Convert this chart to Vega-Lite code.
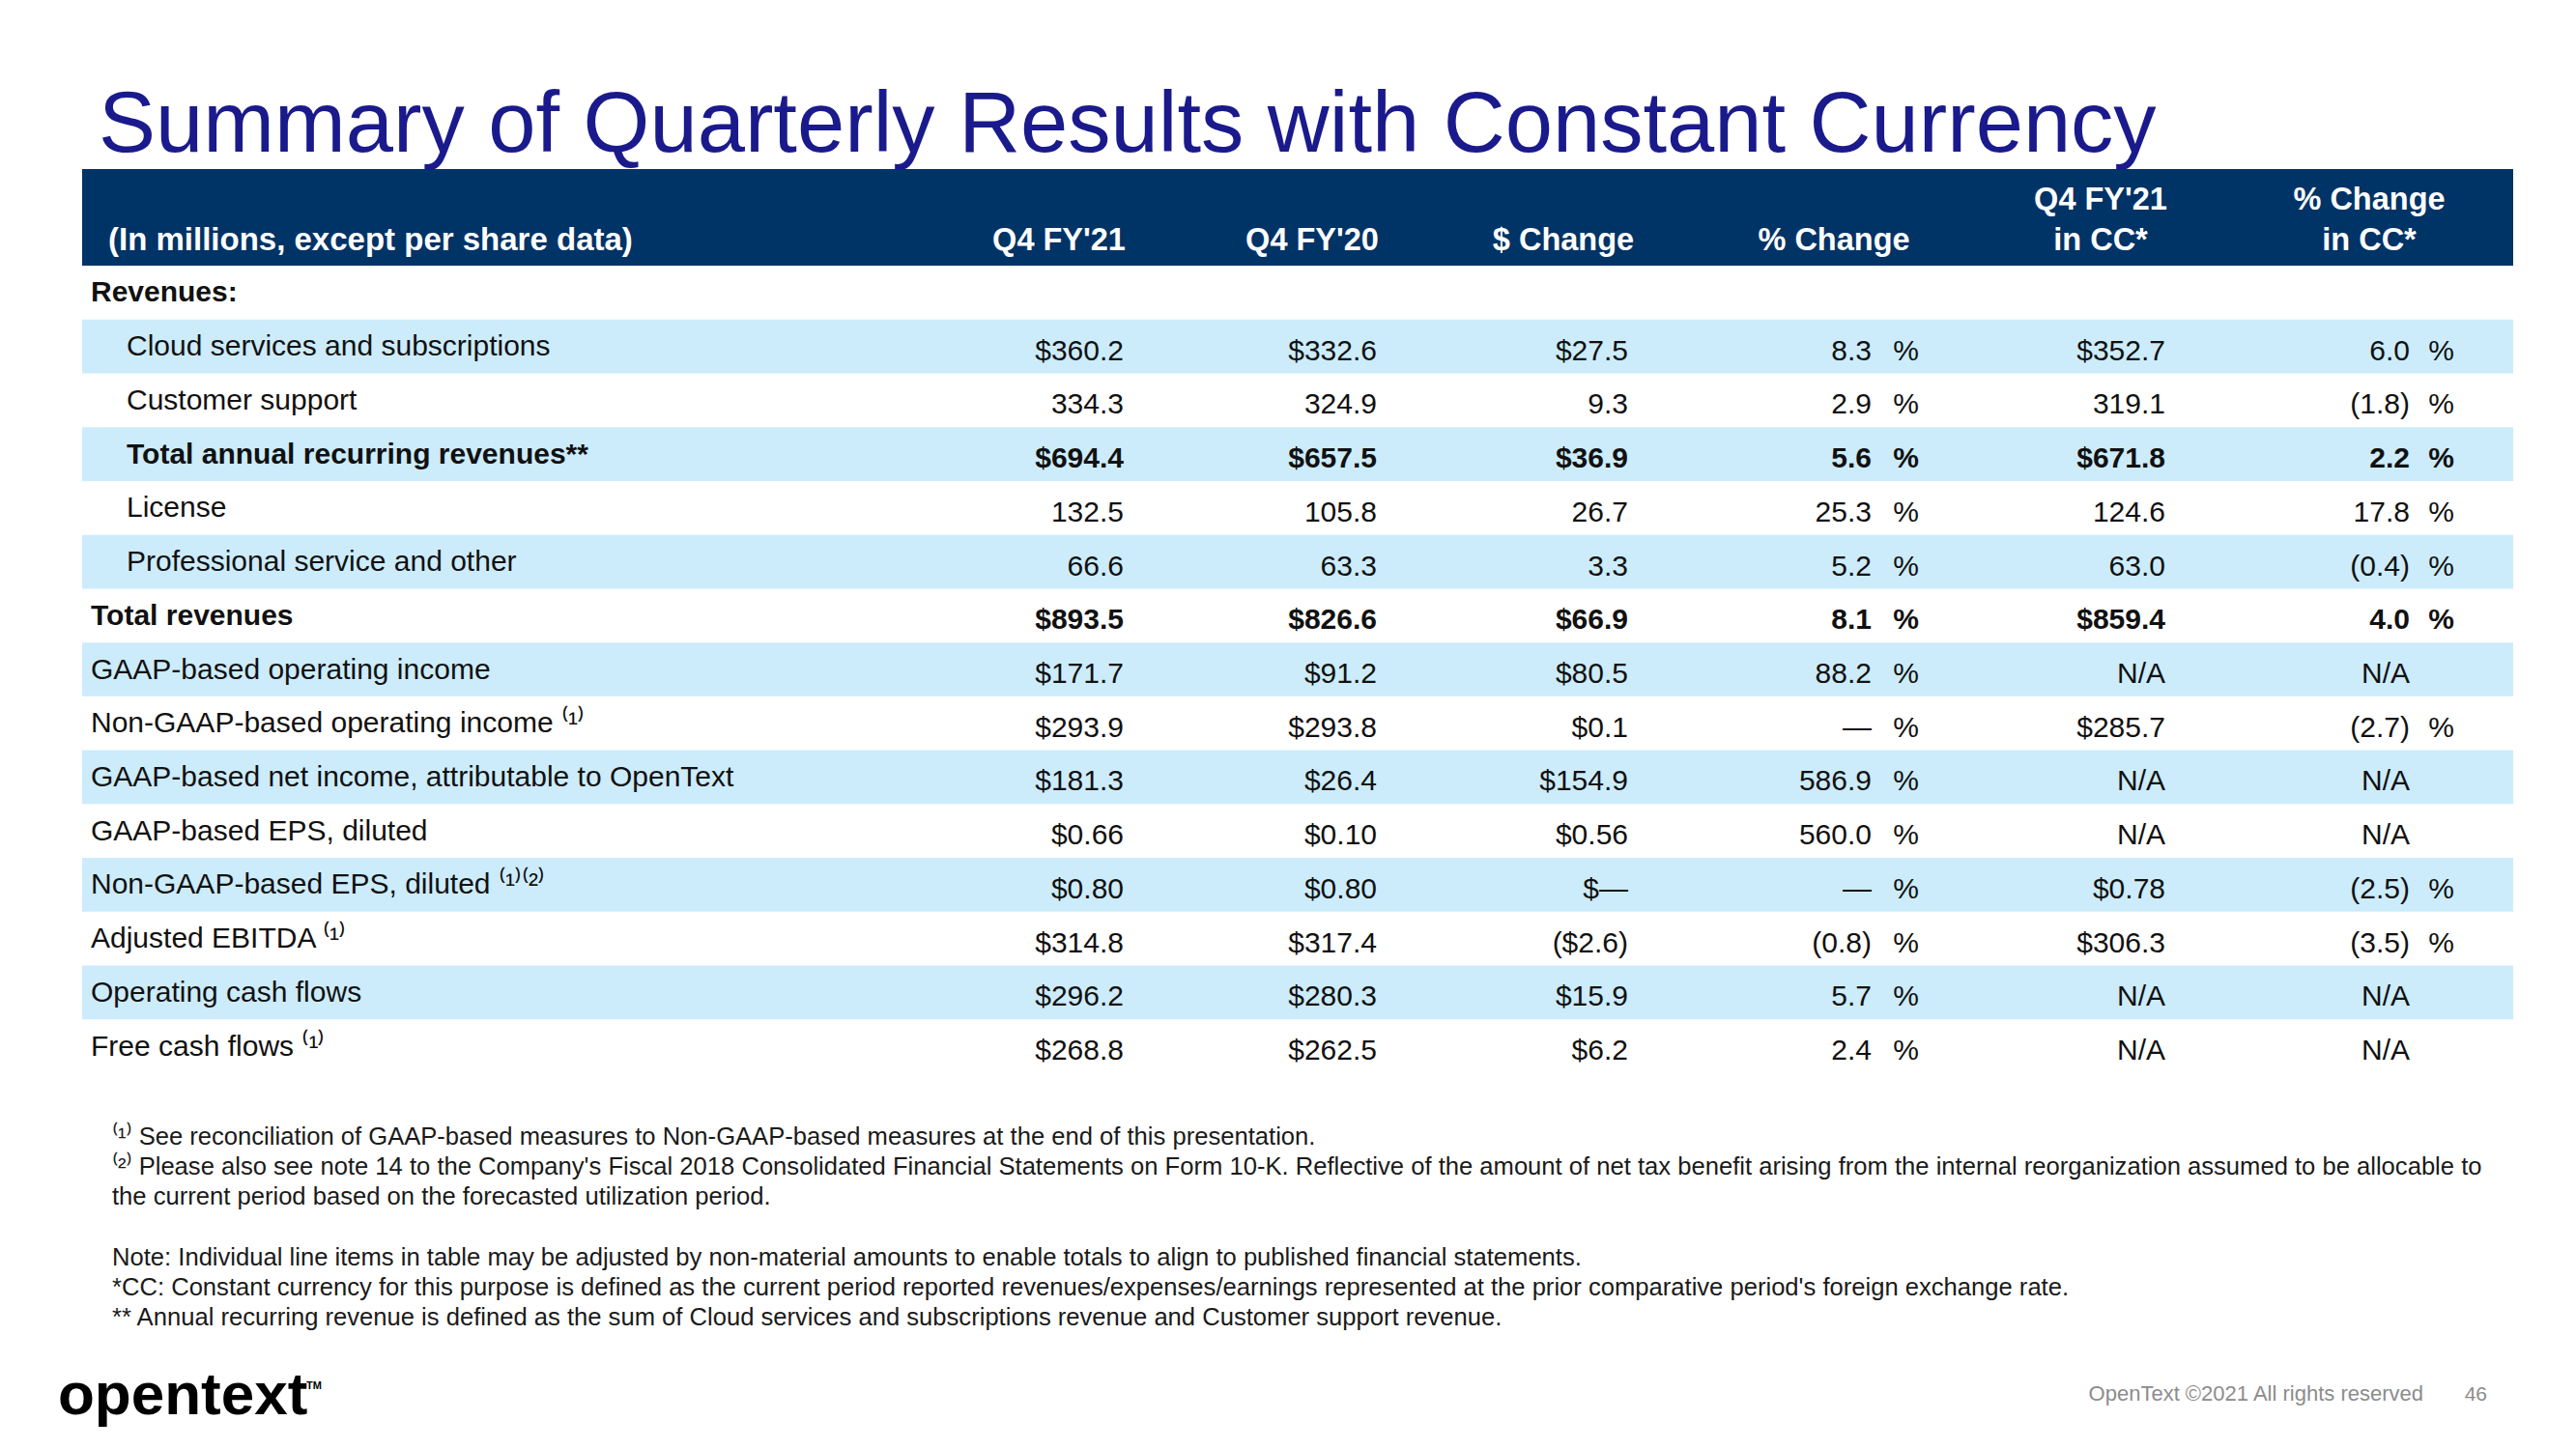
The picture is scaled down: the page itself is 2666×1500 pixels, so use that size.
{
  "$schema": "https://vega.github.io/schema/vega-lite/v6.json",
  "width": 2666,
  "height": 1500,
  "autosize": {"type": "fit", "contains": "padding"},
  "padding": 0,
  "background": "#ffffff",
  "config": {"view": {"stroke": null}, "text": {"font": "Liberation Sans"}},
  "datasets": {
    "rows": [
      {"i": 0, "label": "Revenues:", "level": "section"},
      {"i": 1, "label": "Cloud services and subscriptions", "level": "sub"},
      {"i": 2, "label": "Customer support", "level": "sub"},
      {"i": 3, "label": "Total annual recurring revenues**", "level": "subtotal"},
      {"i": 4, "label": "License", "level": "sub"},
      {"i": 5, "label": "Professional service and other", "level": "sub"},
      {"i": 6, "label": "Total revenues", "level": "total"},
      {"i": 7, "label": "GAAP-based operating income", "level": "item"},
      {"i": 8, "label": "Non-GAAP-based operating income ⁽¹⁾", "level": "item"},
      {"i": 9, "label": "GAAP-based net income, attributable to OpenText", "level": "item"},
      {"i": 10, "label": "GAAP-based EPS, diluted", "level": "item"},
      {"i": 11, "label": "Non-GAAP-based EPS, diluted ⁽¹⁾⁽²⁾", "level": "item"},
      {"i": 12, "label": "Adjusted EBITDA ⁽¹⁾", "level": "item"},
      {"i": 13, "label": "Operating cash flows", "level": "item"},
      {"i": 14, "label": "Free cash flows ⁽¹⁾", "level": "item"}
    ],
    "headers": [
      {"i": -1, "col": 1, "t": "\u00a0\n(In millions, except per share data)"},
      {"i": -1, "col": 2, "t": "\u00a0\nQ4 FY'21"},
      {"i": -1, "col": 3, "t": "\u00a0\nQ4 FY'20"},
      {"i": -1, "col": 4, "t": "\u00a0\n$ Change"},
      {"i": -1, "col": 6, "t": "\u00a0\n% Change"},
      {"i": -1, "col": 7, "t": "Q4 FY'21\nin CC*"},
      {"i": -1, "col": 9, "t": "% Change\nin CC*"}
    ],
    "cells": [
      {"i": 1, "col": 2, "t": "$360.2"}, {"i": 1, "col": 3, "t": "$332.6"}, {"i": 1, "col": 4, "t": "$27.5"}, {"i": 1, "col": 5, "t": "8.3"}, {"i": 1, "col": 6, "t": "%"}, {"i": 1, "col": 7, "t": "$352.7"}, {"i": 1, "col": 8, "t": "6.0"}, {"i": 1, "col": 9, "t": "%"},
      {"i": 2, "col": 2, "t": "334.3"}, {"i": 2, "col": 3, "t": "324.9"}, {"i": 2, "col": 4, "t": "9.3"}, {"i": 2, "col": 5, "t": "2.9"}, {"i": 2, "col": 6, "t": "%"}, {"i": 2, "col": 7, "t": "319.1"}, {"i": 2, "col": 8, "t": "(1.8)"}, {"i": 2, "col": 9, "t": "%"},
      {"i": 3, "col": 2, "t": "$694.4"}, {"i": 3, "col": 3, "t": "$657.5"}, {"i": 3, "col": 4, "t": "$36.9"}, {"i": 3, "col": 5, "t": "5.6"}, {"i": 3, "col": 6, "t": "%"}, {"i": 3, "col": 7, "t": "$671.8"}, {"i": 3, "col": 8, "t": "2.2"}, {"i": 3, "col": 9, "t": "%"},
      {"i": 4, "col": 2, "t": "132.5"}, {"i": 4, "col": 3, "t": "105.8"}, {"i": 4, "col": 4, "t": "26.7"}, {"i": 4, "col": 5, "t": "25.3"}, {"i": 4, "col": 6, "t": "%"}, {"i": 4, "col": 7, "t": "124.6"}, {"i": 4, "col": 8, "t": "17.8"}, {"i": 4, "col": 9, "t": "%"},
      {"i": 5, "col": 2, "t": "66.6"}, {"i": 5, "col": 3, "t": "63.3"}, {"i": 5, "col": 4, "t": "3.3"}, {"i": 5, "col": 5, "t": "5.2"}, {"i": 5, "col": 6, "t": "%"}, {"i": 5, "col": 7, "t": "63.0"}, {"i": 5, "col": 8, "t": "(0.4)"}, {"i": 5, "col": 9, "t": "%"},
      {"i": 6, "col": 2, "t": "$893.5"}, {"i": 6, "col": 3, "t": "$826.6"}, {"i": 6, "col": 4, "t": "$66.9"}, {"i": 6, "col": 5, "t": "8.1"}, {"i": 6, "col": 6, "t": "%"}, {"i": 6, "col": 7, "t": "$859.4"}, {"i": 6, "col": 8, "t": "4.0"}, {"i": 6, "col": 9, "t": "%"},
      {"i": 7, "col": 2, "t": "$171.7"}, {"i": 7, "col": 3, "t": "$91.2"}, {"i": 7, "col": 4, "t": "$80.5"}, {"i": 7, "col": 5, "t": "88.2"}, {"i": 7, "col": 6, "t": "%"}, {"i": 7, "col": 7, "t": "N/A"}, {"i": 7, "col": 8, "t": "N/A"},
      {"i": 8, "col": 2, "t": "$293.9"}, {"i": 8, "col": 3, "t": "$293.8"}, {"i": 8, "col": 4, "t": "$0.1"}, {"i": 8, "col": 5, "t": "—"}, {"i": 8, "col": 6, "t": "%"}, {"i": 8, "col": 7, "t": "$285.7"}, {"i": 8, "col": 8, "t": "(2.7)"}, {"i": 8, "col": 9, "t": "%"},
      {"i": 9, "col": 2, "t": "$181.3"}, {"i": 9, "col": 3, "t": "$26.4"}, {"i": 9, "col": 4, "t": "$154.9"}, {"i": 9, "col": 5, "t": "586.9"}, {"i": 9, "col": 6, "t": "%"}, {"i": 9, "col": 7, "t": "N/A"}, {"i": 9, "col": 8, "t": "N/A"},
      {"i": 10, "col": 2, "t": "$0.66"}, {"i": 10, "col": 3, "t": "$0.10"}, {"i": 10, "col": 4, "t": "$0.56"}, {"i": 10, "col": 5, "t": "560.0"}, {"i": 10, "col": 6, "t": "%"}, {"i": 10, "col": 7, "t": "N/A"}, {"i": 10, "col": 8, "t": "N/A"},
      {"i": 11, "col": 2, "t": "$0.80"}, {"i": 11, "col": 3, "t": "$0.80"}, {"i": 11, "col": 4, "t": "$—"}, {"i": 11, "col": 5, "t": "—"}, {"i": 11, "col": 6, "t": "%"}, {"i": 11, "col": 7, "t": "$0.78"}, {"i": 11, "col": 8, "t": "(2.5)"}, {"i": 11, "col": 9, "t": "%"},
      {"i": 12, "col": 2, "t": "$314.8"}, {"i": 12, "col": 3, "t": "$317.4"}, {"i": 12, "col": 4, "t": "($2.6)"}, {"i": 12, "col": 5, "t": "(0.8)"}, {"i": 12, "col": 6, "t": "%"}, {"i": 12, "col": 7, "t": "$306.3"}, {"i": 12, "col": 8, "t": "(3.5)"}, {"i": 12, "col": 9, "t": "%"},
      {"i": 13, "col": 2, "t": "$296.2"}, {"i": 13, "col": 3, "t": "$280.3"}, {"i": 13, "col": 4, "t": "$15.9"}, {"i": 13, "col": 5, "t": "5.7"}, {"i": 13, "col": 6, "t": "%"}, {"i": 13, "col": 7, "t": "N/A"}, {"i": 13, "col": 8, "t": "N/A"},
      {"i": 14, "col": 2, "t": "$268.8"}, {"i": 14, "col": 3, "t": "$262.5"}, {"i": 14, "col": 4, "t": "$6.2"}, {"i": 14, "col": 5, "t": "2.4"}, {"i": 14, "col": 6, "t": "%"}, {"i": 14, "col": 7, "t": "N/A"}, {"i": 14, "col": 8, "t": "N/A"}
    ],
    "page": [
      {"part": "title", "i": -2, "t": "Summary of Quarterly Results with Constant Currency"},
      {"part": "notes", "i": 15, "t": "⁽¹⁾ See reconciliation of GAAP-based measures to Non-GAAP-based measures at the end of this presentation.\n⁽²⁾ Please also see note 14 to the Company's Fiscal 2018 Consolidated Financial Statements on Form 10-K. Reflective of the amount of net tax benefit arising from the internal reorganization assumed to be allocable to\nthe current period based on the forecasted utilization period."},
      {"part": "notes", "i": 16, "t": "Note: Individual line items in table may be adjusted by non-material amounts to enable totals to align to published financial statements.\n*CC: Constant currency for this purpose is defined as the current period reported revenues/expenses/earnings represented at the prior comparative period's foreign exchange rate.\n** Annual recurring revenue is defined as the sum of Cloud services and subscriptions revenue and Customer support revenue."},
      {"part": "logo", "i": 17, "t": "opentext"},
      {"part": "tm", "i": 17, "t": "TM"},
      {"part": "copyright", "i": 17, "t": "OpenText ©2021 All rights reserved"},
      {"part": "pageno", "i": 17, "t": "46"}
    ]
  },
  "layer": [
    {
      "data": {"values": [{"i": -1}]},
      "mark": {"type": "rule", "color": "#003366", "strokeWidth": 100},
      "encoding": {
        "x": {"datum": 0, "type": "quantitative", "axis": null, "scale": {"domain": [0, 1, 2, 3, 4, 5, 6, 7, 8, 9, 10], "range": [85, 94, 1163, 1425, 1685, 1937, 1986, 2241, 2494, 2540, 2601], "zero": false, "nice": false}},
        "x2": {"datum": 10},
        "y": {"field": "i", "type": "quantitative", "axis": null, "scale": {"domain": [-2, -1, 0, 14, 15, 16, 17], "range": [157, 225, 302.9, 1083.1, 1185, 1310, 1464], "zero": false, "nice": false}}
      }
    },
    {
      "data": {"name": "rows"},
      "transform": [{"filter": "datum.i % 2 == 1"}],
      "mark": {"type": "rule", "color": "#CCECFC", "strokeWidth": 55.73},
      "encoding": {
        "x": {"datum": 0, "type": "quantitative", "axis": null},
        "x2": {"datum": 10},
        "y": {"field": "i", "type": "quantitative", "axis": null}
      }
    },
    {
      "data": {"name": "headers"},
      "transform": [{"filter": {"field": "col", "oneOf": [1]}}],
      "mark": {"type": "text", "align": "left", "baseline": "alphabetic", "dx": 18, "dy": -8, "lineBreak": "\n", "lineHeight": 42, "fontSize": 33, "fontWeight": "bold", "color": "#ffffff"},
      "encoding": {
        "x": {"field": "col", "type": "quantitative", "axis": null},
        "y": {"field": "i", "type": "quantitative", "axis": null},
        "text": {"field": "t"}
      }
    },
    {
      "data": {"name": "headers"},
      "transform": [{"filter": {"field": "col", "oneOf": [2, 3, 4, 7]}}],
      "mark": {"type": "text", "align": "center", "baseline": "alphabetic", "dx": -67, "dy": -8, "lineBreak": "\n", "lineHeight": 42, "fontSize": 32.5, "fontWeight": "bold", "color": "#ffffff"},
      "encoding": {
        "x": {"field": "col", "type": "quantitative", "axis": null},
        "y": {"field": "i", "type": "quantitative", "axis": null},
        "text": {"field": "t"}
      }
    },
    {
      "data": {"name": "headers"},
      "transform": [{"filter": {"field": "col", "oneOf": [6, 9]}}],
      "mark": {"type": "text", "align": "center", "baseline": "alphabetic", "dx": -88, "dy": -8, "lineBreak": "\n", "lineHeight": 42, "fontSize": 32.5, "fontWeight": "bold", "color": "#ffffff"},
      "encoding": {
        "x": {"field": "col", "type": "quantitative", "axis": null},
        "y": {"field": "i", "type": "quantitative", "axis": null},
        "text": {"field": "t"}
      }
    },
    {
      "data": {"name": "rows"},
      "transform": [{"filter": {"field": "level", "oneOf": ["section", "total"]}}],
      "mark": {"type": "text", "align": "left", "baseline": "alphabetic", "dy": 9.5, "fontSize": 30, "fontWeight": "bold", "color": "#111111"},
      "encoding": {
        "x": {"datum": 1, "type": "quantitative", "axis": null},
        "y": {"field": "i", "type": "quantitative", "axis": null},
        "text": {"field": "label"}
      }
    },
    {
      "data": {"name": "rows"},
      "transform": [{"filter": {"field": "level", "oneOf": ["subtotal"]}}],
      "mark": {"type": "text", "align": "left", "baseline": "alphabetic", "dx": 37, "dy": 9.5, "fontSize": 30, "fontWeight": "bold", "color": "#111111"},
      "encoding": {
        "x": {"datum": 1, "type": "quantitative", "axis": null},
        "y": {"field": "i", "type": "quantitative", "axis": null},
        "text": {"field": "label"}
      }
    },
    {
      "data": {"name": "rows"},
      "transform": [{"filter": {"field": "level", "oneOf": ["sub"]}}],
      "mark": {"type": "text", "align": "left", "baseline": "alphabetic", "dx": 37, "dy": 9.5, "fontSize": 30, "color": "#111111"},
      "encoding": {
        "x": {"datum": 1, "type": "quantitative", "axis": null},
        "y": {"field": "i", "type": "quantitative", "axis": null},
        "text": {"field": "label"}
      }
    },
    {
      "data": {"name": "rows"},
      "transform": [{"filter": {"field": "level", "oneOf": ["item"]}}],
      "mark": {"type": "text", "align": "left", "baseline": "alphabetic", "dy": 9.5, "fontSize": 30, "color": "#111111"},
      "encoding": {
        "x": {"datum": 1, "type": "quantitative", "axis": null},
        "y": {"field": "i", "type": "quantitative", "axis": null},
        "text": {"field": "label"}
      }
    },
    {
      "data": {"name": "cells"},
      "transform": [{"filter": {"not": {"field": "i", "oneOf": [3, 6]}}}],
      "mark": {"type": "text", "align": "right", "baseline": "alphabetic", "dy": 14, "fontSize": 30, "color": "#111111"},
      "encoding": {
        "x": {"field": "col", "type": "quantitative", "axis": null},
        "y": {"field": "i", "type": "quantitative", "axis": null},
        "text": {"field": "t"}
      }
    },
    {
      "data": {"name": "cells"},
      "transform": [{"filter": {"field": "i", "oneOf": [3, 6]}}],
      "mark": {"type": "text", "align": "right", "baseline": "alphabetic", "dy": 14, "fontSize": 30, "fontWeight": "bold", "color": "#111111"},
      "encoding": {
        "x": {"field": "col", "type": "quantitative", "axis": null},
        "y": {"field": "i", "type": "quantitative", "axis": null},
        "text": {"field": "t"}
      }
    },
    {
      "data": {"name": "page"},
      "transform": [{"filter": {"field": "part", "equal": "title"}}],
      "mark": {"type": "text", "align": "left", "baseline": "alphabetic", "dx": 8, "fontSize": 88.5, "color": "#1A1A8C"},
      "encoding": {
        "x": {"datum": 1, "type": "quantitative", "axis": null},
        "y": {"field": "i", "type": "quantitative", "axis": null},
        "text": {"field": "t"}
      }
    },
    {
      "data": {"name": "page"},
      "transform": [{"filter": {"field": "part", "equal": "notes"}}],
      "mark": {"type": "text", "align": "left", "baseline": "alphabetic", "dx": 22, "lineBreak": "\n", "lineHeight": 31.2, "fontSize": 25.6, "color": "#1a1a1a"},
      "encoding": {
        "x": {"datum": 1, "type": "quantitative", "axis": null},
        "y": {"field": "i", "type": "quantitative", "axis": null},
        "text": {"field": "t"}
      }
    },
    {
      "data": {"name": "page"},
      "transform": [{"filter": {"field": "part", "equal": "logo"}}],
      "mark": {"type": "text", "align": "left", "baseline": "alphabetic", "dx": -25, "fontSize": 62, "fontWeight": "bold", "color": "#000000"},
      "encoding": {
        "x": {"datum": 0, "type": "quantitative", "axis": null},
        "y": {"field": "i", "type": "quantitative", "axis": null},
        "text": {"field": "t"}
      }
    },
    {
      "data": {"name": "page"},
      "transform": [{"filter": {"field": "part", "equal": "tm"}}],
      "mark": {"type": "text", "align": "left", "baseline": "alphabetic", "dx": 232, "dy": -26, "fontSize": 11, "fontWeight": "bold", "color": "#000000"},
      "encoding": {
        "x": {"datum": 0, "type": "quantitative", "axis": null},
        "y": {"field": "i", "type": "quantitative", "axis": null},
        "text": {"field": "t"}
      }
    },
    {
      "data": {"name": "page"},
      "transform": [{"filter": {"field": "part", "equal": "copyright"}}],
      "mark": {"type": "text", "align": "right", "baseline": "alphabetic", "dx": 14, "dy": -14, "fontSize": 22, "color": "#8C8C8C"},
      "encoding": {
        "x": {"datum": 8, "type": "quantitative", "axis": null},
        "y": {"field": "i", "type": "quantitative", "axis": null},
        "text": {"field": "t"}
      }
    },
    {
      "data": {"name": "page"},
      "transform": [{"filter": {"field": "part", "equal": "pageno"}}],
      "mark": {"type": "text", "align": "right", "baseline": "alphabetic", "dx": -27, "dy": -14, "fontSize": 21, "color": "#8C8C8C"},
      "encoding": {
        "x": {"datum": 10, "type": "quantitative", "axis": null},
        "y": {"field": "i", "type": "quantitative", "axis": null},
        "text": {"field": "t"}
      }
    }
  ]
}
